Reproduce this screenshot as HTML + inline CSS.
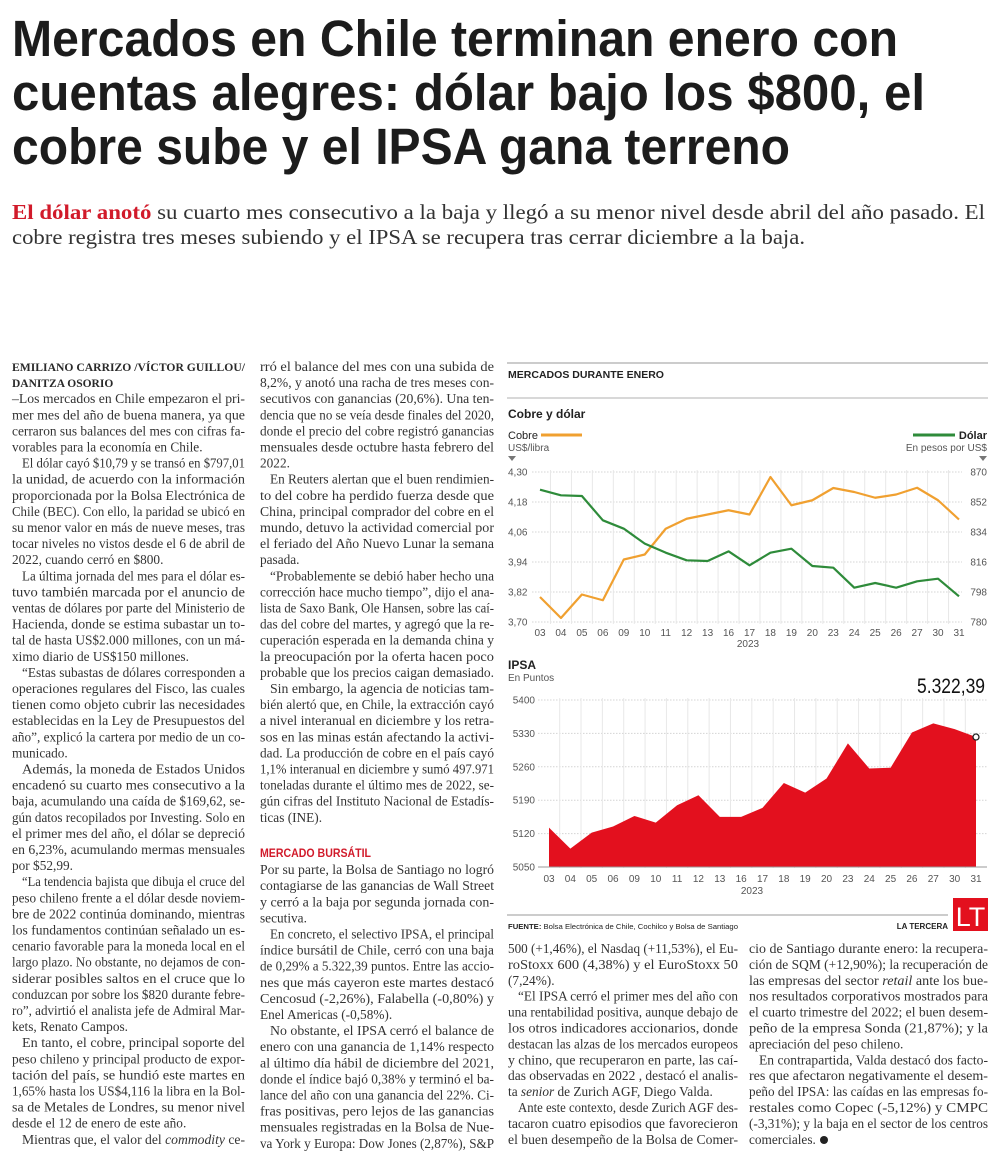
<!DOCTYPE html>
<html><head><meta charset="utf-8"><style>
html,body{margin:0;padding:0;background:#fff;}
svg{display:block;}
.t{font-family:"Liberation Sans",sans-serif;font-weight:bold;font-size:51px;fill:#1c1c1c;}
.s{font-family:"Liberation Serif",serif;font-size:21px;fill:#333;}
.b{font-family:"Liberation Serif",serif;font-size:13.3px;fill:#333;}
.by{font-family:"Liberation Serif",serif;font-size:11.5px;font-weight:bold;fill:#2a2a2a;}
.cs{font-family:"Liberation Sans",sans-serif;fill:#222;}
.ax{font-family:"Liberation Sans",sans-serif;font-size:10px;fill:#555;}
</style></head><body>
<svg id="page" width="1000" height="1161" viewBox="0 0 1000 1161" xmlns="http://www.w3.org/2000/svg">
<g>
<text class="t" x="12" y="56" textLength="886" lengthAdjust="spacingAndGlyphs">Mercados en Chile terminan enero con</text>
<text class="t" x="12" y="110" textLength="913" lengthAdjust="spacingAndGlyphs">cuentas alegres: dólar bajo los $800, el</text>
<text class="t" x="12" y="164" textLength="778" lengthAdjust="spacingAndGlyphs">cobre sube y el IPSA gana terreno</text>
</g>
<g>
<text class="s" x="12" y="219" textLength="973" lengthAdjust="spacingAndGlyphs"><tspan fill="#d11a2a" font-weight="bold">El dólar anotó</tspan> su cuarto mes consecutivo a la baja y llegó a su menor nivel desde abril del año pasado. El</text>
<text class="s" x="12" y="244" textLength="793" lengthAdjust="spacingAndGlyphs">cobre registra tres meses subiendo y el IPSA se recupera tras cerrar diciembre a la baja.</text>
</g>

<g>
<text class="by" x="12" y="371" textLength="233" lengthAdjust="spacingAndGlyphs">EMILIANO CARRIZO /VÍCTOR GUILLOU/</text>
<text class="by" x="12" y="387.1">DANITZA OSORIO</text>
<text class="b" x="12" y="403.2" textLength="233" lengthAdjust="spacingAndGlyphs">–Los mercados en Chile empezaron el pri-</text>
<text class="b" x="12" y="419.3" textLength="233" lengthAdjust="spacingAndGlyphs">mer mes del año de buena manera, ya que</text>
<text class="b" x="12" y="435.4" textLength="233" lengthAdjust="spacingAndGlyphs">cerraron sus balances del mes con cifras fa-</text>
<text class="b" x="12" y="451.5">vorables para la economía en Chile.</text>
<text class="b" x="22" y="467.6" textLength="223" lengthAdjust="spacingAndGlyphs">El dólar cayó $10,79 y se transó en $797,01</text>
<text class="b" x="12" y="483.7" textLength="233" lengthAdjust="spacingAndGlyphs">la unidad, de acuerdo con la información</text>
<text class="b" x="12" y="499.8" textLength="233" lengthAdjust="spacingAndGlyphs">proporcionada por la Bolsa Electrónica de</text>
<text class="b" x="12" y="515.9" textLength="233" lengthAdjust="spacingAndGlyphs">Chile (BEC). Con ello, la paridad se ubicó en</text>
<text class="b" x="12" y="532" textLength="233" lengthAdjust="spacingAndGlyphs">su menor valor en más de nueve meses, tras</text>
<text class="b" x="12" y="548.1" textLength="233" lengthAdjust="spacingAndGlyphs">tocar niveles no vistos desde el 6 de abril de</text>
<text class="b" x="12" y="564.2">2022, cuando cerró en $800.</text>
<text class="b" x="22" y="580.3" textLength="223" lengthAdjust="spacingAndGlyphs">La última jornada del mes para el dólar es-</text>
<text class="b" x="12" y="596.4" textLength="233" lengthAdjust="spacingAndGlyphs">tuvo también marcada por el anuncio de</text>
<text class="b" x="12" y="612.5" textLength="233" lengthAdjust="spacingAndGlyphs">ventas de dólares por parte del Ministerio de</text>
<text class="b" x="12" y="628.6" textLength="233" lengthAdjust="spacingAndGlyphs">Hacienda, donde se estima subastar un to-</text>
<text class="b" x="12" y="644.7" textLength="233" lengthAdjust="spacingAndGlyphs">tal de hasta US$2.000 millones, con un má-</text>
<text class="b" x="12" y="660.8">ximo diario de US$150 millones.</text>
<text class="b" x="22" y="676.9" textLength="223" lengthAdjust="spacingAndGlyphs">“Estas subastas de dólares corresponden a</text>
<text class="b" x="12" y="693" textLength="233" lengthAdjust="spacingAndGlyphs">operaciones regulares del Fisco, las cuales</text>
<text class="b" x="12" y="709.1" textLength="233" lengthAdjust="spacingAndGlyphs">tienen como objeto cubrir las necesidades</text>
<text class="b" x="12" y="725.2" textLength="233" lengthAdjust="spacingAndGlyphs">establecidas en la Ley de Presupuestos del</text>
<text class="b" x="12" y="741.3" textLength="233" lengthAdjust="spacingAndGlyphs">año”, explicó la cartera por medio de un co-</text>
<text class="b" x="12" y="757.4">municado.</text>
<text class="b" x="22" y="773.5" textLength="223" lengthAdjust="spacingAndGlyphs">Además, la moneda de Estados Unidos</text>
<text class="b" x="12" y="789.6" textLength="233" lengthAdjust="spacingAndGlyphs">encadenó su cuarto mes consecutivo a la</text>
<text class="b" x="12" y="805.7" textLength="233" lengthAdjust="spacingAndGlyphs">baja, acumulando una caída de $169,62, se-</text>
<text class="b" x="12" y="821.8" textLength="233" lengthAdjust="spacingAndGlyphs">gún datos recopilados por Investing. Solo en</text>
<text class="b" x="12" y="837.9" textLength="233" lengthAdjust="spacingAndGlyphs">el primer mes del año, el dólar se depreció</text>
<text class="b" x="12" y="854" textLength="233" lengthAdjust="spacingAndGlyphs">en 6,23%, acumulando mermas mensuales</text>
<text class="b" x="12" y="870.1">por $52,99.</text>
<text class="b" x="22" y="886.2" textLength="223" lengthAdjust="spacingAndGlyphs">“La tendencia bajista que dibuja el cruce del</text>
<text class="b" x="12" y="902.3" textLength="233" lengthAdjust="spacingAndGlyphs">peso chileno frente a el dólar desde noviem-</text>
<text class="b" x="12" y="918.4" textLength="233" lengthAdjust="spacingAndGlyphs">bre de 2022 continúa dominando, mientras</text>
<text class="b" x="12" y="934.5" textLength="233" lengthAdjust="spacingAndGlyphs">los fundamentos continúan señalado un es-</text>
<text class="b" x="12" y="950.6" textLength="233" lengthAdjust="spacingAndGlyphs">cenario favorable para la moneda local en el</text>
<text class="b" x="12" y="966.7" textLength="233" lengthAdjust="spacingAndGlyphs">largo plazo. No obstante, no dejamos de con-</text>
<text class="b" x="12" y="982.8" textLength="233" lengthAdjust="spacingAndGlyphs">siderar posibles saltos en el cruce que lo</text>
<text class="b" x="12" y="998.9" textLength="233" lengthAdjust="spacingAndGlyphs">conduzcan por sobre los $820 durante febre-</text>
<text class="b" x="12" y="1015" textLength="233" lengthAdjust="spacingAndGlyphs">ro”, advirtió el analista jefe de Admiral Mar-</text>
<text class="b" x="12" y="1031.1">kets, Renato Campos.</text>
<text class="b" x="22" y="1047.2" textLength="223" lengthAdjust="spacingAndGlyphs">En tanto, el cobre, principal soporte del</text>
<text class="b" x="12" y="1063.3" textLength="233" lengthAdjust="spacingAndGlyphs">peso chileno y principal producto de expor-</text>
<text class="b" x="12" y="1079.4" textLength="233" lengthAdjust="spacingAndGlyphs">tación del país, se hundió este martes en</text>
<text class="b" x="12" y="1095.5" textLength="233" lengthAdjust="spacingAndGlyphs">1,65% hasta los US$4,116 la libra en la Bol-</text>
<text class="b" x="12" y="1111.6" textLength="233" lengthAdjust="spacingAndGlyphs">sa de Metales de Londres, su menor nivel</text>
<text class="b" x="12" y="1127.7">desde el 12 de enero de este año.</text>
<text class="b" x="22" y="1143.8" textLength="223" lengthAdjust="spacingAndGlyphs">Mientras que, el valor del <tspan font-style="italic">commodity</tspan> ce-</text>
</g>

<g>
<text class="b" x="260" y="371" textLength="234" lengthAdjust="spacingAndGlyphs">rró el balance del mes con una subida de</text>
<text class="b" x="260" y="387.1" textLength="234" lengthAdjust="spacingAndGlyphs">8,2%, y anotó una racha de tres meses con-</text>
<text class="b" x="260" y="403.2" textLength="234" lengthAdjust="spacingAndGlyphs">secutivos con ganancias (20,6%). Una ten-</text>
<text class="b" x="260" y="419.3" textLength="234" lengthAdjust="spacingAndGlyphs">dencia que no se veía desde finales del 2020,</text>
<text class="b" x="260" y="435.4" textLength="234" lengthAdjust="spacingAndGlyphs">donde el precio del cobre registró ganancias</text>
<text class="b" x="260" y="451.5" textLength="234" lengthAdjust="spacingAndGlyphs">mensuales desde octubre hasta febrero del</text>
<text class="b" x="260" y="467.6">2022.</text>
<text class="b" x="270" y="483.7" textLength="224" lengthAdjust="spacingAndGlyphs">En Reuters alertan que el buen rendimien-</text>
<text class="b" x="260" y="499.8" textLength="234" lengthAdjust="spacingAndGlyphs">to del cobre ha perdido fuerza desde que</text>
<text class="b" x="260" y="515.9" textLength="234" lengthAdjust="spacingAndGlyphs">China, principal comprador del cobre en el</text>
<text class="b" x="260" y="532" textLength="234" lengthAdjust="spacingAndGlyphs">mundo, detuvo la actividad comercial por</text>
<text class="b" x="260" y="548.1" textLength="234" lengthAdjust="spacingAndGlyphs">el feriado del Año Nuevo Lunar la semana</text>
<text class="b" x="260" y="564.2">pasada.</text>
<text class="b" x="270" y="580.3" textLength="224" lengthAdjust="spacingAndGlyphs">“Probablemente se debió haber hecho una</text>
<text class="b" x="260" y="596.4" textLength="234" lengthAdjust="spacingAndGlyphs">corrección hace mucho tiempo”, dijo el ana-</text>
<text class="b" x="260" y="612.5" textLength="234" lengthAdjust="spacingAndGlyphs">lista de Saxo Bank, Ole Hansen, sobre las caí-</text>
<text class="b" x="260" y="628.6" textLength="234" lengthAdjust="spacingAndGlyphs">das del cobre del martes, y agregó que la re-</text>
<text class="b" x="260" y="644.7" textLength="234" lengthAdjust="spacingAndGlyphs">cuperación esperada en la demanda china y</text>
<text class="b" x="260" y="660.8" textLength="234" lengthAdjust="spacingAndGlyphs">la preocupación por la oferta hacen poco</text>
<text class="b" x="260" y="676.9" textLength="234" lengthAdjust="spacingAndGlyphs">probable que los precios caigan demasiado.</text>
<text class="b" x="270" y="693" textLength="224" lengthAdjust="spacingAndGlyphs">Sin embargo, la agencia de noticias tam-</text>
<text class="b" x="260" y="709.1" textLength="234" lengthAdjust="spacingAndGlyphs">bién alertó que, en Chile, la extracción cayó</text>
<text class="b" x="260" y="725.2" textLength="234" lengthAdjust="spacingAndGlyphs">a nivel interanual en diciembre y los retra-</text>
<text class="b" x="260" y="741.3" textLength="234" lengthAdjust="spacingAndGlyphs">sos en las minas están afectando la activi-</text>
<text class="b" x="260" y="757.4" textLength="234" lengthAdjust="spacingAndGlyphs">dad. La producción de cobre en el país cayó</text>
<text class="b" x="260" y="773.5" textLength="234" lengthAdjust="spacingAndGlyphs">1,1% interanual en diciembre y sumó 497.971</text>
<text class="b" x="260" y="789.6" textLength="234" lengthAdjust="spacingAndGlyphs">toneladas durante el último mes de 2022, se-</text>
<text class="b" x="260" y="805.7" textLength="234" lengthAdjust="spacingAndGlyphs">gún cifras del Instituto Nacional de Estadís-</text>
<text class="b" x="260" y="821.8">ticas (INE).</text>
<text x="260" y="857" font-family="Liberation Sans, sans-serif" font-size="11.5" font-weight="bold" fill="#d11a2a" textLength="111" lengthAdjust="spacingAndGlyphs">MERCADO BURSÁTIL</text>
<text class="b" x="260" y="874.1" textLength="234" lengthAdjust="spacingAndGlyphs">Por su parte, la Bolsa de Santiago no logró</text>
<text class="b" x="260" y="890.2" textLength="234" lengthAdjust="spacingAndGlyphs">contagiarse de las ganancias de Wall Street</text>
<text class="b" x="260" y="906.3" textLength="234" lengthAdjust="spacingAndGlyphs">y cerró a la baja por segunda jornada con-</text>
<text class="b" x="260" y="922.4">secutiva.</text>
<text class="b" x="270" y="938.5" textLength="224" lengthAdjust="spacingAndGlyphs">En concreto, el selectivo IPSA, el principal</text>
<text class="b" x="260" y="954.6" textLength="234" lengthAdjust="spacingAndGlyphs">índice bursátil de Chile, cerró con una baja</text>
<text class="b" x="260" y="970.7" textLength="234" lengthAdjust="spacingAndGlyphs">de 0,29% a 5.322,39 puntos. Entre las accio-</text>
<text class="b" x="260" y="986.8" textLength="234" lengthAdjust="spacingAndGlyphs">nes que más cayeron este martes destacó</text>
<text class="b" x="260" y="1002.9" textLength="234" lengthAdjust="spacingAndGlyphs">Cencosud (-2,26%), Falabella (-0,80%) y</text>
<text class="b" x="260" y="1019">Enel Americas (-0,58%).</text>
<text class="b" x="270" y="1035.1" textLength="224" lengthAdjust="spacingAndGlyphs">No obstante, el IPSA cerró el balance de</text>
<text class="b" x="260" y="1051.2" textLength="234" lengthAdjust="spacingAndGlyphs">enero con una ganancia de 1,14% respecto</text>
<text class="b" x="260" y="1067.3" textLength="234" lengthAdjust="spacingAndGlyphs">al último día hábil de diciembre del 2021,</text>
<text class="b" x="260" y="1083.4" textLength="234" lengthAdjust="spacingAndGlyphs">donde el índice bajó 0,38% y terminó el ba-</text>
<text class="b" x="260" y="1099.5" textLength="234" lengthAdjust="spacingAndGlyphs">lance del año con una ganancia del 22%. Ci-</text>
<text class="b" x="260" y="1115.6" textLength="234" lengthAdjust="spacingAndGlyphs">fras positivas, pero lejos de las ganancias</text>
<text class="b" x="260" y="1131.7" textLength="234" lengthAdjust="spacingAndGlyphs">mensuales registradas en la Bolsa de Nue-</text>
<text class="b" x="260" y="1147.8" textLength="234" lengthAdjust="spacingAndGlyphs">va York y Europa: Dow Jones (2,87%), S&amp;P</text>
</g>

<g>
<text class="b" x="508" y="953" textLength="230" lengthAdjust="spacingAndGlyphs">500 (+1,46%), el Nasdaq (+11,53%), el Eu-</text>
<text class="b" x="508" y="968.9" textLength="230" lengthAdjust="spacingAndGlyphs">roStoxx 600 (4,38%) y el EuroStoxx 50</text>
<text class="b" x="508" y="984.8">(7,24%).</text>
<text class="b" x="518" y="1000.7" textLength="220" lengthAdjust="spacingAndGlyphs">“El IPSA cerró el primer mes del año con</text>
<text class="b" x="508" y="1016.6" textLength="230" lengthAdjust="spacingAndGlyphs">una rentabilidad positiva, aunque debajo de</text>
<text class="b" x="508" y="1032.5" textLength="230" lengthAdjust="spacingAndGlyphs">los otros indicadores accionarios, donde</text>
<text class="b" x="508" y="1048.4" textLength="230" lengthAdjust="spacingAndGlyphs">destacan las alzas de los mercados europeos</text>
<text class="b" x="508" y="1064.3" textLength="230" lengthAdjust="spacingAndGlyphs">y chino, que recuperaron en parte, las caí-</text>
<text class="b" x="508" y="1080.2" textLength="230" lengthAdjust="spacingAndGlyphs">das observadas en 2022 , destacó el analis-</text>
<text class="b" x="508" y="1096.1">ta <tspan font-style="italic">senior</tspan> de Zurich AGF, Diego Valda.</text>
<text class="b" x="518" y="1112" textLength="220" lengthAdjust="spacingAndGlyphs">Ante este contexto, desde Zurich AGF des-</text>
<text class="b" x="508" y="1127.9" textLength="230" lengthAdjust="spacingAndGlyphs">tacaron cuatro episodios que favorecieron</text>
<text class="b" x="508" y="1143.8" textLength="230" lengthAdjust="spacingAndGlyphs">el buen desempeño de la Bolsa de Comer-</text>
</g>

<g>
<text class="b" x="749" y="953" textLength="239" lengthAdjust="spacingAndGlyphs">cio de Santiago durante enero: la recupera-</text>
<text class="b" x="749" y="968.9" textLength="239" lengthAdjust="spacingAndGlyphs">ción de SQM (+12,90%); la recuperación de</text>
<text class="b" x="749" y="984.8" textLength="239" lengthAdjust="spacingAndGlyphs">las empresas del sector <tspan font-style="italic">retail</tspan> ante los bue-</text>
<text class="b" x="749" y="1000.7" textLength="239" lengthAdjust="spacingAndGlyphs">nos resultados corporativos mostrados para</text>
<text class="b" x="749" y="1016.6" textLength="239" lengthAdjust="spacingAndGlyphs">el cuarto trimestre del 2022; el buen desem-</text>
<text class="b" x="749" y="1032.5" textLength="239" lengthAdjust="spacingAndGlyphs">peño de la empresa Sonda (21,87%); y la</text>
<text class="b" x="749" y="1048.4">apreciación del peso chileno.</text>
<text class="b" x="759" y="1064.3" textLength="229" lengthAdjust="spacingAndGlyphs">En contrapartida, Valda destacó dos facto-</text>
<text class="b" x="749" y="1080.2" textLength="239" lengthAdjust="spacingAndGlyphs">res que afectaron negativamente el desem-</text>
<text class="b" x="749" y="1096.1" textLength="239" lengthAdjust="spacingAndGlyphs">peño del IPSA: las caídas en las empresas fo-</text>
<text class="b" x="749" y="1112" textLength="239" lengthAdjust="spacingAndGlyphs">restales como Copec (-5,12%) y CMPC</text>
<text class="b" x="749" y="1127.9" textLength="239" lengthAdjust="spacingAndGlyphs">(-3,31%); y la baja en el sector de los centros</text>
<text class="b" x="749" y="1143.8">comerciales.</text>
<circle cx="824" cy="1140" r="4" fill="#222"/>
</g>

<g>
<line x1="507" y1="363" x2="988" y2="363" stroke="#bbb" stroke-width="1.5"/>
<text class="cs" x="508" y="378" font-size="10.5" font-weight="bold" textLength="156" lengthAdjust="spacingAndGlyphs">MERCADOS DURANTE ENERO</text>
<line x1="507" y1="398" x2="988" y2="398" stroke="#ccc" stroke-width="1.5"/>
<text class="cs" x="508" y="418" font-size="12" font-weight="bold">Cobre y dólar</text>
<text class="cs" x="508" y="439" font-size="11">Cobre</text>
<line x1="541" y1="435" x2="582" y2="435" stroke="#f0a030" stroke-width="3"/>
<text class="cs" x="987" y="439" font-size="11" font-weight="bold" text-anchor="end">Dólar</text>
<line x1="913" y1="435" x2="955" y2="435" stroke="#2e8b3a" stroke-width="3"/>
<text class="ax" x="508" y="451" font-size="10">US$/libra</text>
<text class="ax" x="987" y="451" text-anchor="end">En pesos por US$</text>
<path d="M508 456 L516 456 L512 461 Z" fill="#777"/>
<path d="M979 456 L987 456 L983 461 Z" fill="#777"/>
<text class="cs" x="508" y="669" font-size="12" font-weight="bold">IPSA</text>
<text class="ax" x="508" y="681">En Puntos</text>
<text x="985" y="693" text-anchor="end" font-family="Liberation Sans, sans-serif" font-size="21" fill="#111" textLength="68" lengthAdjust="spacingAndGlyphs">5.322,39</text>
<line x1="507" y1="915" x2="948" y2="915" stroke="#bbb" stroke-width="1.5"/>
<text class="cs" x="508" y="929" font-size="7.5" textLength="230" lengthAdjust="spacingAndGlyphs"><tspan font-weight="bold">FUENTE:</tspan> Bolsa Electrónica de Chile, Cochilco y Bolsa de Santiago</text>
<text class="cs" x="948" y="929" font-size="8" font-weight="bold" text-anchor="end">LA TERCERA</text>
<g>
<rect x="953" y="898" width="35" height="33" fill="#e3101e"/>
<text x="970.5" y="926" text-anchor="middle" font-family="Liberation Sans, sans-serif" font-size="27" fill="#fff">LT</text>
</g>
</g>
<g id="cobreChart"></g>
<g id="ipsaChart"></g>
</svg>
<script>
const days = ["03","04","05","06","09","10","11","12","13","16","17","18","19","20","23","24","25","26","27","30","31"];
const cobreValues = [3.80,3.716,3.81,3.787,3.95,3.97,4.073,4.113,4.13,4.147,4.13,4.28,4.167,4.187,4.236,4.22,4.197,4.21,4.237,4.187,4.11];
const dolarValues = [859.4,856,855.6,841,836,827,821.6,817,816.6,822.4,814,821.6,824,813.6,812.6,800.6,803.4,800.6,804.4,806,795.4];
const cobreTicks = ["4,30","4,18","4,06","3,94","3,82","3,70"];
const cobreTickValues = [4.30,4.18,4.06,3.94,3.82,3.70];
const dolarTickValues = [870,852,834,816,798,780];
const ipsaValues = [5132.6,5088.5,5122,5135,5157,5143,5179.5,5200.5,5155,5155,5174,5226,5206,5235.5,5309,5256.5,5258,5332,5351,5339,5322.39];
const ipsaTickValues = [5400,5330,5260,5190,5120,5050];
const yearLabel = "2023";

const NS = "http://www.w3.org/2000/svg";
function mk(parent, tag, attrs, txt){
  const e = document.createElementNS(NS, tag);
  for (const k in attrs) e.setAttribute(k, attrs[k]);
  if (txt !== undefined) e.textContent = txt;
  parent.appendChild(e);
  return e;
}

const cX = i => 540 + i * (959 - 540) / (days.length - 1);
const cY = v => 472 + (4.30 - v) / 0.60 * 150;
const dY = v => 472 + (870 - v) / 90 * 150;
const cg = document.getElementById('cobreChart');
cobreTickValues.forEach((v, k) => {
  const gl = mk(cg, 'line', {x1: 532, x2: 962, y1: cY(v), y2: cY(v), stroke: '#d4d4d4', 'stroke-dasharray': '1.5,1.5'});
  
  
  const lt = mk(cg, 'text', {x: 508, y: cY(v) + 3.5, class: 'ax'}, cobreTicks[k]);
  
  
  const rt = mk(cg, 'text', {x: 987, y: dY(dolarTickValues[k]) + 3.5, class: 'ax', 'text-anchor': 'end'}, String(dolarTickValues[k]));
  
  
});
days.forEach((d, i) => {
  if (i < days.length - 1) {
    const vx = (cX(i) + cX(i + 1)) / 2;
    const vl = mk(cg, 'line', {x1: vx, x2: vx, y1: 470, y2: 624, stroke: '#e8e8e8', 'stroke-width': 1});
    
    
  }
  const xt = mk(cg, 'text', {x: cX(i), y: 636, class: 'ax', 'text-anchor': 'middle'}, d);
  
  
});
const cy1 = mk(cg, 'text', {x: 748, y: 647, class: 'ax', 'text-anchor': 'middle'}, yearLabel);


const cobreLine = mk(cg, 'polyline', {points: cobreValues.map((v, i) => cX(i) + ',' + cY(v)).join(' '), fill: 'none', stroke: '#f0a030', 'stroke-width': 2.2, 'stroke-linejoin': 'round'});


const dolarLine = mk(cg, 'polyline', {points: dolarValues.map((v, i) => cX(i) + ',' + dY(v)).join(' '), fill: 'none', stroke: '#2e8b3a', 'stroke-width': 2.2, 'stroke-linejoin': 'round'});



const iX = i => 549 + i * (976 - 549) / (days.length - 1);
const iY = v => 700 + (5400 - v) / 350 * 167;
const ig = document.getElementById('ipsaChart');
ipsaTickValues.forEach(v => {
  const gl = mk(ig, 'line', {x1: 538, x2: 987, y1: iY(v), y2: iY(v), stroke: '#d4d4d4', 'stroke-dasharray': '1.5,1.5'});
  
  
  const lt = mk(ig, 'text', {x: 535, y: iY(v) + 3.5, class: 'ax', 'text-anchor': 'end'}, String(v));
  
  
});
days.forEach((d, i) => {
  if (i < days.length - 1) {
    const vx = (iX(i) + iX(i + 1)) / 2;
    const vl = mk(ig, 'line', {x1: vx, x2: vx, y1: 698, y2: 868, stroke: '#e8e8e8', 'stroke-width': 1});
    
    
  }
  const xt = mk(ig, 'text', {x: iX(i), y: 882, class: 'ax', 'text-anchor': 'middle'}, d);
  
  
});
const iy1 = mk(ig, 'text', {x: 752, y: 894, class: 'ax', 'text-anchor': 'middle'}, yearLabel);


const base = iY(5050);
const areaPts = ipsaValues.map((v, i) => iX(i) + ',' + iY(v));
const area = mk(ig, 'polygon', {points: iX(0) + ',' + base + ' ' + areaPts.join(' ') + ' ' + iX(ipsaValues.length - 1) + ',' + base, fill: '#e3101e'});


const axisLine = mk(ig, 'line', {x1: 538, x2: 987, y1: base, y2: base, stroke: '#999', 'stroke-width': 1});


const last = ipsaValues.length - 1;
const marker = mk(ig, 'circle', {cx: iX(last), cy: iY(ipsaValues[last]), r: 3, fill: '#fff', stroke: '#222', 'stroke-width': 1.3});


</script>
</body></html>
